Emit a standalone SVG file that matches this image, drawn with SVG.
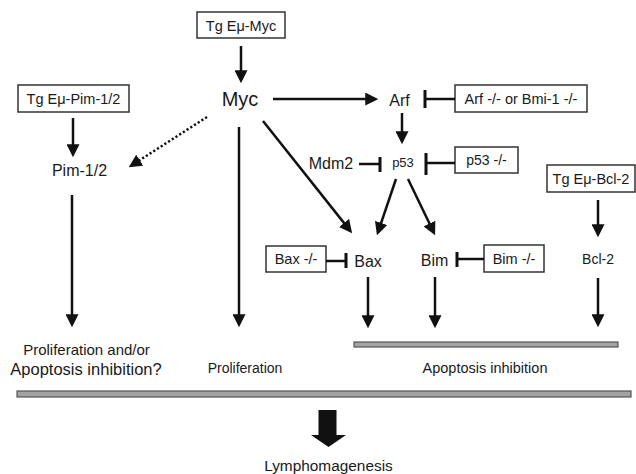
<svg xmlns="http://www.w3.org/2000/svg" width="636" height="474" viewBox="0 0 636 474">
<style>
text{font-family:"Liberation Sans",Arial,sans-serif;fill:#1a1a1a;text-anchor:middle}
.box{fill:#fff;stroke:#333;stroke-width:1.5}
.bt{font-size:14.5px}
.c{stroke:#111;stroke-width:2.5;fill:none}
.arr{marker-end:url(#ah)}
.dot{stroke-dasharray:2.2 2.2}
.bar{stroke:#111;stroke-width:3}
.gbar{fill:#a3a3a3;stroke:#555;stroke-width:1.2}
</style>
<defs>
<marker id="ah" markerUnits="userSpaceOnUse" markerWidth="13" markerHeight="13" viewBox="0 0 12 12" refX="9" refY="6" orient="auto">
<path d="M0,0 L12,6 L0,12 z" fill="#111"/>
</marker>
</defs>

<g id="tg-myc"><rect class="box" x="197" y="12" width="88" height="26"/><text class="bt" x="241" y="31">Tg Eμ-Myc</text></g>
<g id="tg-pim"><rect class="box" x="18" y="85" width="111" height="27"/><text class="bt" x="73.5" y="104">Tg Eμ-Pim-1/2</text></g>
<g id="arf-ko"><rect class="box" x="455" y="85" width="132" height="27"/><text class="bt" x="521" y="104">Arf -/- or Bmi-1 -/-</text></g>
<g id="p53-ko"><rect class="box" x="455" y="147" width="63" height="26"/><text x="486.5" y="165" font-size="14">p53 -/-</text></g>
<g id="tg-bcl2"><rect class="box" x="547" y="165" width="88" height="27"/><text class="bt" x="591" y="184">Tg Eμ-Bcl-2</text></g>
<g id="bax-ko"><rect class="box" x="266" y="246" width="60" height="26"/><text class="bt" x="296" y="264">Bax -/-</text></g>
<g id="bim-ko"><rect class="box" x="484" y="245" width="60" height="27"/><text class="bt" x="514" y="264">Bim -/-</text></g>

<g id="myc"><text x="240" y="106" font-size="20">Myc</text></g>
<g id="arf"><text x="399.5" y="106" font-size="16">Arf</text></g>
<g id="pim"><text x="79.5" y="176" font-size="16">Pim-1/2</text></g>
<g id="mdm2"><text x="331" y="169" font-size="16">Mdm2</text></g>
<g id="p53"><text x="403" y="167" font-size="13">p53</text></g>
<g id="bax"><text x="368" y="267" font-size="16">Bax</text></g>
<g id="bim"><text x="434.5" y="266" font-size="16">Bim</text></g>
<g id="bcl2"><text x="598" y="264" font-size="14">Bcl-2</text></g>

<g id="prolif-apop"><text x="86.5" y="355" font-size="15">Proliferation and/or</text><text x="86" y="375" font-size="16.5">Apoptosis inhibition?</text></g>
<g id="prolif"><text x="245" y="373" font-size="14">Proliferation</text></g>
<g id="apop"><rect class="gbar" x="354" y="342" width="264" height="5"/><text x="485" y="373" font-size="14.5">Apoptosis inhibition</text></g>
<g id="lympho"><rect class="gbar" x="17" y="391" width="614" height="6"/><polygon points="318.5,410 336.5,410 336.5,435 346,435 328.5,447 311,435 318.5,435" fill="#111"/><text x="328.5" y="471" font-size="15.4">Lymphomagenesis</text></g>

<g id="connectors">
<line class="c arr" x1="241" y1="46" x2="241" y2="80"/>
<line class="c arr" x1="73" y1="118" x2="73" y2="154"/>
<line class="c arr dot" x1="207" y1="117" x2="131.5" y2="165.4"/>
<line class="c arr" x1="273" y1="99" x2="375" y2="99"/>
<line class="c" x1="455" y1="99" x2="425" y2="99"/><line class="bar" x1="425" y1="90" x2="425" y2="108"/>
<line class="c arr" x1="402" y1="113" x2="402" y2="141"/>
<line class="c" x1="359" y1="164" x2="380" y2="164"/><line class="bar" x1="380" y1="157" x2="380" y2="172"/>
<line class="c" x1="455" y1="163" x2="426" y2="163"/><line class="bar" x1="426" y1="153" x2="426" y2="175"/>
<line class="c arr" x1="263" y1="121" x2="350.1" y2="230.6"/>
<line class="c arr" x1="396" y1="179" x2="378" y2="232.2"/>
<line class="c arr" x1="408" y1="179" x2="433.7" y2="232.3"/>
<line class="c arr" x1="598" y1="200" x2="598" y2="234"/>
<line class="c" x1="326" y1="261" x2="346" y2="261"/><line class="bar" x1="346" y1="253" x2="346" y2="268"/>
<line class="c" x1="484" y1="259" x2="457" y2="259"/><line class="bar" x1="457" y1="252" x2="457" y2="267"/>
<line class="c arr" x1="72" y1="195" x2="72" y2="324"/>
<line class="c arr" x1="239" y1="127" x2="239" y2="324"/>
<line class="c arr" x1="368" y1="277" x2="368" y2="325"/>
<line class="c arr" x1="435" y1="277" x2="435" y2="325"/>
<line class="c arr" x1="598" y1="278" x2="598" y2="324"/>
</g>
</svg>
